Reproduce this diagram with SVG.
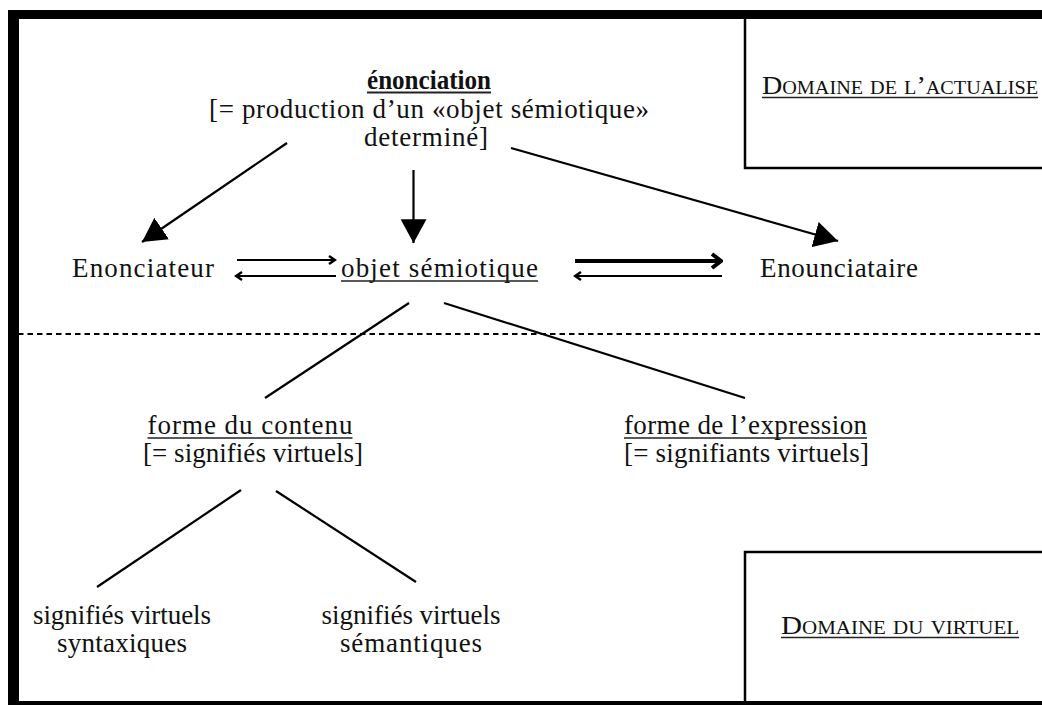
<svg xmlns="http://www.w3.org/2000/svg" width="1042" height="705" viewBox="0 0 1042 705">
<defs>
<style>
text{font-family:"Liberation Serif","Times New Roman",serif;font-size:27px;fill:#111}
.sc{font-variant:small-caps;font-size:25px}
.ul{stroke:#222;stroke-width:1.4}
.ln{stroke:#000;stroke-width:2.2;fill:none}
</style>
<marker id="big" markerUnits="userSpaceOnUse" markerWidth="26" markerHeight="26" viewBox="0 0 24 24" refX="22" refY="12" orient="auto"><path d="M0,0 L22,12 L0,24 z" fill="#000"/></marker>
<marker id="sm" markerUnits="userSpaceOnUse" markerWidth="10" markerHeight="12" viewBox="0 0 10 12" refX="8" refY="6" orient="auto"><path d="M2,2 L8,6 L2,10" fill="none" stroke="#000" stroke-width="2.4"/></marker>
<marker id="thk" markerUnits="userSpaceOnUse" markerWidth="14" markerHeight="18" viewBox="0 0 14 18" refX="12" refY="9" orient="auto"><path d="M3,2 L12,9 L3,16" fill="none" stroke="#000" stroke-width="4"/></marker>
</defs>
<rect width="1042" height="705" fill="#fff"/>
<g id="frame">
<line x1="8" y1="14.5" x2="1042" y2="14.5" stroke="#000" stroke-width="9"/>
<line x1="13.5" y1="10" x2="13.5" y2="705" stroke="#000" stroke-width="11"/>
<line x1="8" y1="703" x2="1042" y2="703" stroke="#000" stroke-width="4"/>
<line x1="18" y1="334" x2="1042" y2="334" stroke="#000" stroke-width="2" stroke-dasharray="5.5,4"/>
</g>
<g id="domaine-actualise">
<rect x="745" y="14" width="300" height="154" fill="none" stroke="#000" stroke-width="2.5"/>
<text class="sc" x="900" y="94" text-anchor="middle" textLength="276" lengthAdjust="spacingAndGlyphs">Domaine de l’actualise</text>
<line class="ul" x1="762" y1="97.5" x2="1038" y2="97.5"/>
</g>
<g id="domaine-virtuel">
<rect x="745" y="552" width="300" height="160" fill="none" stroke="#000" stroke-width="2.5"/>
<text class="sc" x="900" y="634" text-anchor="middle" textLength="238" lengthAdjust="spacingAndGlyphs">Domaine du virtuel</text>
<line class="ul" x1="781" y1="637.5" x2="1019" y2="637.5"/>
</g>
<g id="enonciation">
<text x="429" y="89" text-anchor="middle" font-weight="bold" font-size="26" textLength="124" lengthAdjust="spacingAndGlyphs">énonciation</text>
<line class="ul" x1="367" y1="92.5" x2="491" y2="92.5" style="stroke-width:1.8"/>
<text x="429" y="118" text-anchor="middle" textLength="440" lengthAdjust="spacing">[= production d’un «objet sémiotique»</text>
<text x="426" y="146" text-anchor="middle" textLength="124" lengthAdjust="spacing">determiné]</text>
</g>
<g id="enonciateur"><text x="72" y="277" textLength="142" lengthAdjust="spacing">Enonciateur</text></g>
<g id="objet"><text x="341" y="277" textLength="197" lengthAdjust="spacing">objet sémiotique</text>
<line class="ul" x1="341" y1="281" x2="538" y2="281"/></g>
<g id="enonciataire"><text x="760" y="277" textLength="158" lengthAdjust="spacing">Enounciataire</text></g>
<g id="forme-contenu">
<text x="250" y="434" text-anchor="middle" textLength="205" lengthAdjust="spacing">forme du contenu</text>
<line class="ul" x1="147.5" y1="438" x2="352.5" y2="438"/>
<text x="253" y="462" text-anchor="middle" textLength="220" lengthAdjust="spacing">[= signifiés virtuels]</text>
</g>
<g id="forme-expression">
<text x="624" y="434" textLength="243" lengthAdjust="spacing">forme de l’expression</text>
<line class="ul" x1="624" y1="438" x2="867" y2="438"/>
<text x="624" y="462" textLength="245" lengthAdjust="spacing">[= signifiants virtuels]</text>
</g>
<g id="sv-syntaxiques">
<text x="122" y="624" text-anchor="middle" textLength="178" lengthAdjust="spacing">signifiés virtuels</text>
<text x="122" y="652" text-anchor="middle" textLength="130" lengthAdjust="spacing">syntaxiques</text>
</g>
<g id="sv-semantiques">
<text x="411" y="624" text-anchor="middle" textLength="179" lengthAdjust="spacing">signifiés virtuels</text>
<text x="411" y="652" text-anchor="middle" textLength="142" lengthAdjust="spacing">sémantiques</text>
</g>
<g id="connectors">
<line class="ln" x1="287" y1="143" x2="142" y2="242" marker-end="url(#big)"/>
<line class="ln" x1="413.5" y1="170" x2="413.5" y2="243" marker-end="url(#big)"/>
<line class="ln" x1="511" y1="148" x2="838" y2="241" marker-end="url(#big)"/>
<line class="ln" x1="237" y1="260" x2="335" y2="260" marker-end="url(#sm)"/>
<line class="ln" x1="336" y1="276" x2="236" y2="276" marker-end="url(#sm)"/>
<line x1="575" y1="261" x2="721" y2="261" stroke="#000" stroke-width="4" marker-end="url(#thk)"/>
<line class="ln" x1="722" y1="276" x2="575" y2="276" marker-end="url(#sm)"/>
<line class="ln" x1="409" y1="303" x2="265" y2="398"/>
<line class="ln" x1="444" y1="303" x2="745" y2="398"/>
<line class="ln" x1="241" y1="490" x2="97" y2="587"/>
<line class="ln" x1="276" y1="491" x2="416" y2="582"/>
</g>
</svg>
